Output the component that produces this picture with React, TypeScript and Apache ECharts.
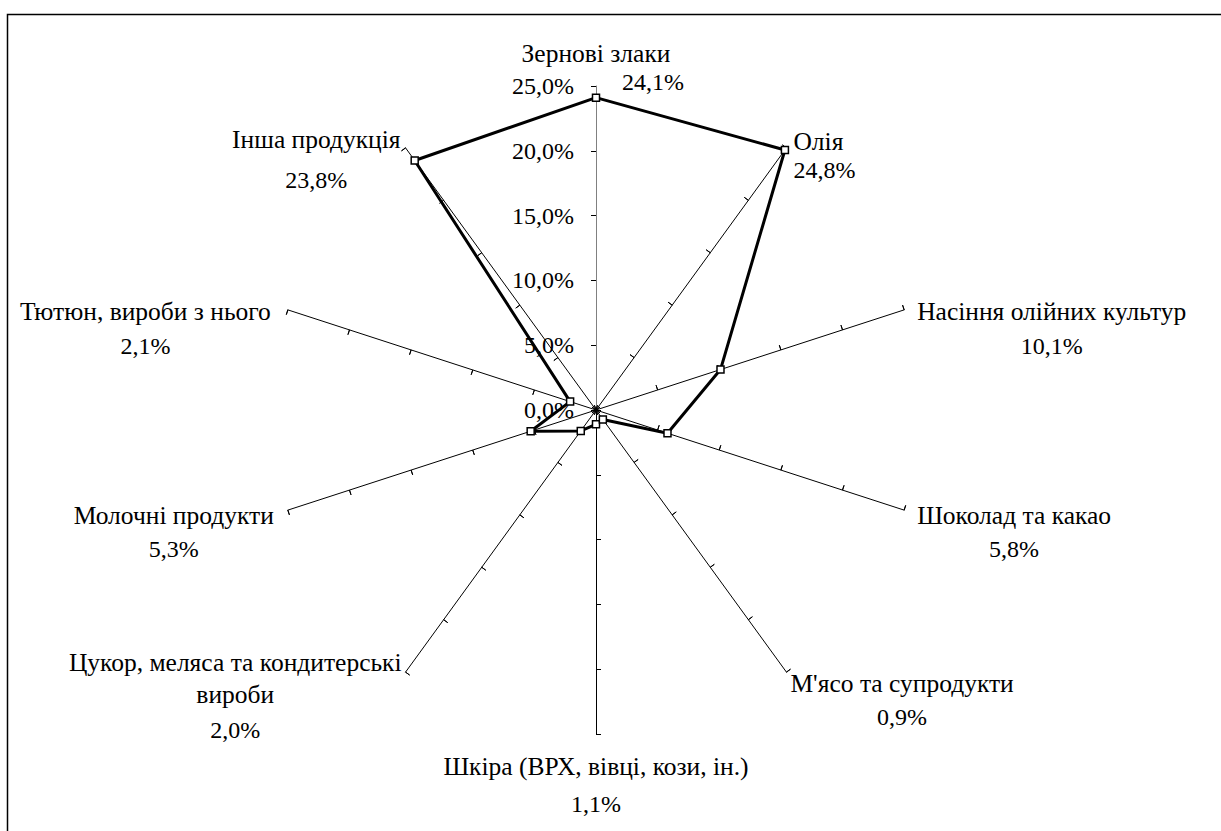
import React, { useEffect, useRef } from 'react';
import * as echarts from 'echarts';

// ---- data ----
const categories: string[] = [
  'Зернові злаки',
  'Олія',
  'Насіння олійних культур',
  'Шоколад та какао',
  "М'ясо та супродукти",
  'Шкіра (ВРХ, вівці, кози, ін.)',
  'Цукор, меляса та кондитерські\nвироби',
  'Молочні продукти',
  'Тютюн, вироби з нього',
  'Інша продукція',
];
const shares: number[] = [24.1, 24.8, 10.1, 5.8, 0.9, 1.1, 2.0, 5.3, 2.1, 23.8];
const axisMax = 25;
const axisSplits = 5;

const FONT = 'Liberation Serif';
const NAME_SIZE = 25.5;
const VALUE_SIZE = 24;
const fmt = (v: number) => v.toFixed(1).replace('.', ',') + '%';

// ---- label layout (styles only) ----
type LL = { sp: number; nl: number[]; vl: number; np?: number[]; vp?: number[]; va?: string };
const labelLayout: LL[] = [
  { sp: 0, nl: [50], vl: 8, vp: [0, 0, 0, 114] },
  { sp: 16, nl: [28], vl: 28, np: [0, 0, 0, 7], vp: [0, 0, 0, 7] },
  { sp: 38, nl: [34], vl: 34, np: [0, 0, 0, 13], vp: [0, 0, 0, 13], va: 'center' },
  { sp: 44, nl: [34], vl: 34, np: [0, 0, 0, 13], vp: [0, 0, 0, 13], va: 'center' },
  { sp: 56, nl: [34], vl: 34, np: [0, 0, 0, 4], vp: [0, 0, 0, 4], va: 'center' },
  { sp: 14, nl: [36], vl: 40 },
  { sp: 52, nl: [32, 32], vl: 40, np: [0, 4, 0, 0], vp: [0, 4, 0, 0], va: 'center' },
  { sp: 44, nl: [34], vl: 34, np: [0, 14, 0, 0], vp: [0, 14, 0, 0], va: 'center' },
  { sp: 38, nl: [34], vl: 34, np: [0, 17, 0, 0], vp: [0, 17, 0, 0], va: 'center' },
  { sp: 24, nl: [40], vl: 40, np: [0, 5, 0, 0], vp: [0, 5, 0, 0], va: 'center' },
];

export default function App() {
  const ref = useRef<HTMLDivElement>(null);
  useEffect(() => {
    if (!ref.current) return;
    const chart = echarts.init(ref.current, undefined, { renderer: 'svg' });

    const nameBase = { fontFamily: FONT, fontSize: NAME_SIZE, color: '#000' };
    const valBase = { fontFamily: FONT, fontSize: VALUE_SIZE, color: '#000' };
    const rich: Record<string, any> = {};
    labelLayout.forEach((L, i) => {
      rich['s' + i] = { ...valBase, fontSize: 2, lineHeight: L.sp };
      L.nl.forEach((lh, k) => {
        const st: any = { ...nameBase, lineHeight: lh };
        if (L.np) st.padding = L.np;
        if (k > 0) st.align = 'center';
        rich['n' + i + 'x' + k] = st;
      });
      const vs: any = { ...valBase, lineHeight: L.vl };
      if (L.vp) vs.padding = L.vp;
      if (L.va) vs.align = L.va;
      rich['v' + i] = vs;
    });

    // ECharts draws radar indicators counter-clockwise; reorder to go clockwise
    const order = categories.map((_, i) => (categories.length - i) % categories.length);

    const mkIndicators = (withLabel: boolean) =>
      order.map((idx) => {
        const ind: any = { name: categories[idx], max: axisMax, min: 0, idx, nameMoveOverlap: false };
        if (idx === 0) {
          ind.axisLine = { lineStyle: { color: '#808080' } };
          if (withLabel) ind.axisLabel = { show: true };
        }
        return ind;
      });

    const nameFormatter = (name: string, ind: any) => {
      const i = ind.idx;
      const L = labelLayout[i];
      const parts: string[] = [];
      if (L.sp > 0) parts.push('{s' + i + '| }');
      name.split('\n').forEach((ln, k) => parts.push('{n' + i + 'x' + k + '|' + ln + '}'));
      parts.push('{v' + i + '|' + fmt(shares[i]) + '}');
      return parts.join('\n');
    };

    const center = [596, 410];
    const radius = 324;

    chart.setOption({
      animation: false,
      backgroundColor: '#fff',
      textStyle: { fontFamily: FONT },
      graphic: [
        {
          type: 'rect',
          silent: true,
          z: -10,
          shape: { x: 7.5, y: 14.5, width: 1400, height: 1000 },
          style: { fill: 'none', stroke: '#000', lineWidth: 1.5 },
        },
      ],
      radar: [
        {
          center,
          radius,
          shape: 'polygon',
          splitNumber: axisSplits,
          nameGap: 0,
          indicator: mkIndicators(true),
          axisName: {
            show: true,
            color: '#000',
            fontFamily: FONT,
            fontSize: NAME_SIZE,
            formatter: nameFormatter,
            rich,
          },
          axisLine: { show: true, lineStyle: { color: '#000', width: 1 } },
          axisTick: { show: true, length: 5, lineStyle: { color: '#000', width: 1 } },
          axisLabel: {
            show: false,
            margin: 22,
            color: '#000',
            fontFamily: FONT,
            fontSize: VALUE_SIZE,
            formatter: (v: number) => fmt(v),
          },
          splitLine: { show: false },
          splitArea: { show: false },
        },
        {
          center,
          radius,
          shape: 'polygon',
          splitNumber: axisSplits,
          indicator: mkIndicators(false),
          axisName: { show: false },
          axisLine: { show: false },
          axisTick: { show: true, inside: true, length: 5, lineStyle: { color: '#000', width: 1 } },
          axisLabel: { show: false },
          splitLine: { show: false },
          splitArea: { show: false },
        },
      ],
      series: [
        {
          type: 'radar',
          radarIndex: 0,
          z: 5,
          symbol: 'rect',
          symbolSize: 7,
          lineStyle: { color: '#000', width: 3 },
          itemStyle: { color: '#fff', borderColor: '#000', borderWidth: 1.5 },
          data: [{ value: order.map((i) => shares[i]), name: 'Частка' }],
        },
      ],
    });
    return () => chart.dispose();
  }, []);
  return (
    <div
      ref={ref}
      style={{ position: 'fixed', left: 0, top: 0, width: 1221, height: 831, background: '#fff' }}
    />
  );
}
